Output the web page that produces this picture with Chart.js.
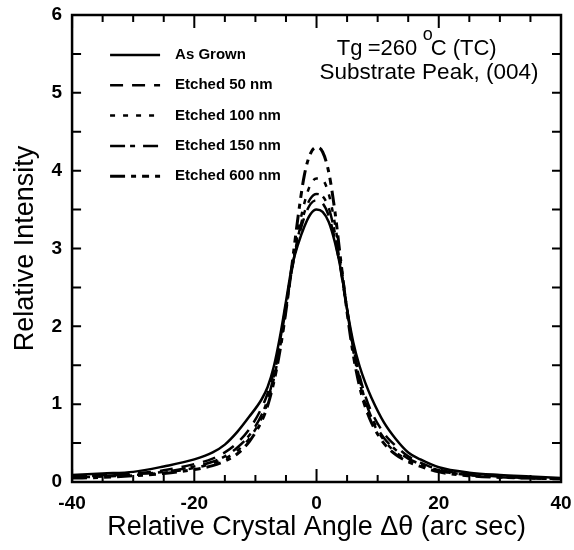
<!DOCTYPE html>
<html lang="en">
<head>
  <meta charset="UTF-8">
  <title>Substrate Peak (004)</title>
  <script src="https://cdn.jsdelivr.net/npm/chart.js"></script>
  <style>
    html, body { margin: 0; padding: 0; background: #fff; }
    #wrap { width: 574px; height: 550px; }
  </style>
</head>
<body>
  <div id="wrap"><canvas id="rocking"></canvas></div>

  <script>
    // relative crystal angle (arc sec) at which the curves were read
    const angles = [-40, -35, -30, -25, -20, -17, -15, -13, -11, -9, -8, -7, -6, -5, -4, -3, -2, -1, 0,
                    1, 2, 3, 4, 5, 6, 7, 8, 9, 11, 13, 15, 17, 20, 25, 30, 35, 40];

    const asGrown = [0.09, 0.11, 0.13, 0.20, 0.29, 0.38, 0.48, 0.64, 0.84, 1.06, 1.22, 1.48, 1.86, 2.32, 2.78, 3.06, 3.28, 3.44, 3.50,
                     3.47, 3.34, 3.08, 2.72, 2.22, 1.80, 1.50, 1.27, 1.08, 0.77, 0.55, 0.38, 0.29, 0.19, 0.12, 0.09, 0.07, 0.05];
    const etched50 = [0.08, 0.09, 0.11, 0.15, 0.23, 0.30, 0.38, 0.50, 0.68, 0.95, 1.14, 1.42, 1.80, 2.28, 2.74, 3.12, 3.40, 3.57, 3.62,
                      3.58, 3.42, 3.12, 2.70, 2.20, 1.74, 1.38, 1.10, 0.90, 0.63, 0.46, 0.33, 0.25, 0.16, 0.10, 0.07, 0.05, 0.04];
    const etched100 = [0.06, 0.07, 0.09, 0.12, 0.18, 0.24, 0.30, 0.40, 0.56, 0.82, 1.02, 1.32, 1.72, 2.22, 2.75, 3.22, 3.58, 3.82, 3.90,
                       3.88, 3.70, 3.32, 2.80, 2.22, 1.70, 1.30, 1.00, 0.80, 0.54, 0.38, 0.28, 0.21, 0.14, 0.09, 0.06, 0.05, 0.04];
    const etched150 = [0.07, 0.08, 0.10, 0.13, 0.20, 0.26, 0.33, 0.44, 0.60, 0.86, 1.06, 1.36, 1.76, 2.25, 2.74, 3.16, 3.46, 3.64, 3.70,
                       3.67, 3.52, 3.20, 2.74, 2.22, 1.72, 1.34, 1.04, 0.83, 0.57, 0.41, 0.30, 0.23, 0.15, 0.09, 0.06, 0.05, 0.04];
    const etched600 = [0.05, 0.06, 0.08, 0.11, 0.16, 0.21, 0.27, 0.36, 0.52, 0.78, 0.98, 1.28, 1.68, 2.20, 2.80, 3.42, 3.94, 4.22, 4.30,
                       4.24, 3.98, 3.48, 2.82, 2.18, 1.64, 1.24, 0.96, 0.76, 0.50, 0.35, 0.26, 0.20, 0.13, 0.08, 0.06, 0.05, 0.04];

    const seriesNames = ['As Grown', 'Etched 50 nm', 'Etched 100 nm', 'Etched 150 nm', 'Etched 600 nm'];
    const seriesValues = [asGrown, etched50, etched100, etched150, etched600];
    const seriesDash = [[], [13, 9], [5, 8], [15, 5, 5, 8], [15, 6, 5, 6, 7, 6]];
    const seriesWidth = [2.5, 2.5, 2.5, 2.5, 3];

    const FONT = "'Liberation Sans', Arial, Helvetica, sans-serif";

    // tick marks pointing into the plot on all four sides plus the closed frame
    const frameTicks = {
      id: 'frameTicks',
      afterDatasetsDraw(chart) {
        const { ctx, chartArea: a, scales: { x, y } } = chart;
        ctx.save();
        ctx.strokeStyle = '#000';
        ctx.lineWidth = 2;
        ctx.beginPath();
        x.ticks.forEach(t => {
          const px = x.getPixelForValue(t.value);
          const len = t.value % 20 === 0 ? 13 : 7;
          ctx.moveTo(px, a.bottom); ctx.lineTo(px, a.bottom - len);
          ctx.moveTo(px, a.top); ctx.lineTo(px, a.top + len);
        });
        y.ticks.forEach(t => {
          const py = y.getPixelForValue(t.value);
          ctx.moveTo(a.left, py); ctx.lineTo(a.left + 9, py);
          ctx.moveTo(a.right, py); ctx.lineTo(a.right - 9, py);
        });
        ctx.stroke();
        ctx.lineWidth = 2.5;
        ctx.strokeRect(a.left, a.top, a.right - a.left, a.bottom - a.top);
        ctx.restore();
      }
    };

    // line-style key in the upper left of the plot, one row per dataset
    const lineKey = {
      id: 'lineKey',
      afterDatasetsDraw(chart) {
        const { ctx, chartArea: a } = chart;
        ctx.save();
        ctx.font = 'bold 15px ' + FONT;
        ctx.fillStyle = '#000';
        ctx.textBaseline = 'middle';
        chart.data.datasets.forEach((ds, i) => {
          const yy = a.top + 40 + i * 30.3;
          const x0 = a.left + 38;
          ctx.strokeStyle = ds.borderColor;
          ctx.lineWidth = ds.borderWidth;
          ctx.setLineDash(ds.borderDash);
          ctx.beginPath();
          ctx.moveTo(x0, yy);
          ctx.lineTo(x0 + 50, yy);
          ctx.stroke();
          ctx.setLineDash([]);
          ctx.fillText(ds.label, x0 + 65, yy);
        });
        ctx.restore();
      }
    };

    // growth note in the upper right corner
    const growthNote = {
      id: 'growthNote',
      afterDraw(chart) {
        const { ctx, scales: { x, y } } = chart;
        ctx.save();
        ctx.fillStyle = '#000';
        ctx.textBaseline = 'alphabetic';
        ctx.textAlign = 'left';
        const big = '22px ' + FONT;
        const base1 = y.getPixelForValue(5.485);
        const x0 = x.getPixelForValue(3.3);
        ctx.font = big;
        ctx.fillText('Tg', x0, base1);
        ctx.fillText('=260', x0 + 31, base1);
        ctx.fillText('C', x0 + 94, base1);
        ctx.fillText('(TC)', x0 + 116, base1);
        ctx.font = '18px ' + FONT;
        ctx.fillText('o', x0 + 86, base1 - 15);
        ctx.font = '22.5px ' + FONT;
        ctx.textAlign = 'center';
        ctx.fillText('Substrate Peak, (004)', x.getPixelForValue(18.4), y.getPixelForValue(5.18));
        ctx.restore();
      }
    };

    const datasets = seriesNames.map((name, i) => ({
      label: name,
      data: angles.map((a, j) => ({ x: a, y: seriesValues[i][j] })),
      borderColor: '#000',
      backgroundColor: '#000',
      borderWidth: seriesWidth[i],
      borderDash: seriesDash[i],
      pointRadius: 0,
      fill: false,
      cubicInterpolationMode: 'monotone'
    }));

    new Chart(document.getElementById('rocking'), {
      type: 'line',
      data: { datasets },
      plugins: [frameTicks, lineKey, growthNote],
      options: {
        responsive: true,
        maintainAspectRatio: false,
        animation: false,
        devicePixelRatio: 1,
        layout: { padding: { left: 3, right: 13, top: 15, bottom: 4 } },
        plugins: {
          tooltip: { enabled: false },
          legend: { display: false }
        },
        scales: {
          x: {
            type: 'linear',
            min: -40,
            max: 40,
            grid: { display: false, drawTicks: false },
            border: { display: false },
            ticks: {
              stepSize: 5,
              autoSkip: false,
              maxRotation: 0,
              padding: 0,
              color: '#000',
              font: { family: FONT, size: 19, weight: 'bold', lineHeight: 44 / 19 },
              callback: v => (v % 20 === 0 ? v : '')
            },
            title: {
              display: true,
              text: 'Relative Crystal Angle \u0394\u03b8 (arc sec)',
              color: '#000',
              padding: { top: -12, bottom: 5 },
              font: { family: FONT, size: 27, lineHeight: 1 }
            }
          },
          y: {
            min: 0,
            max: 6,
            grid: { display: false, drawTicks: false },
            border: { display: false },
            ticks: {
              stepSize: 0.5,
              autoSkip: false,
              padding: 10,
              color: '#000',
              font: { family: FONT, size: 19, weight: 'bold', lineHeight: 0.5 },
              callback: v => (Number.isInteger(v) ? v : '')
            },
            title: {
              display: true,
              text: 'Relative Intensity',
              color: '#000',
              padding: { top: 9.5, bottom: 2 },
              font: { family: FONT, size: 27, lineHeight: 1 }
            }
          }
        }
      }
    });
  </script>
</body>
</html>
